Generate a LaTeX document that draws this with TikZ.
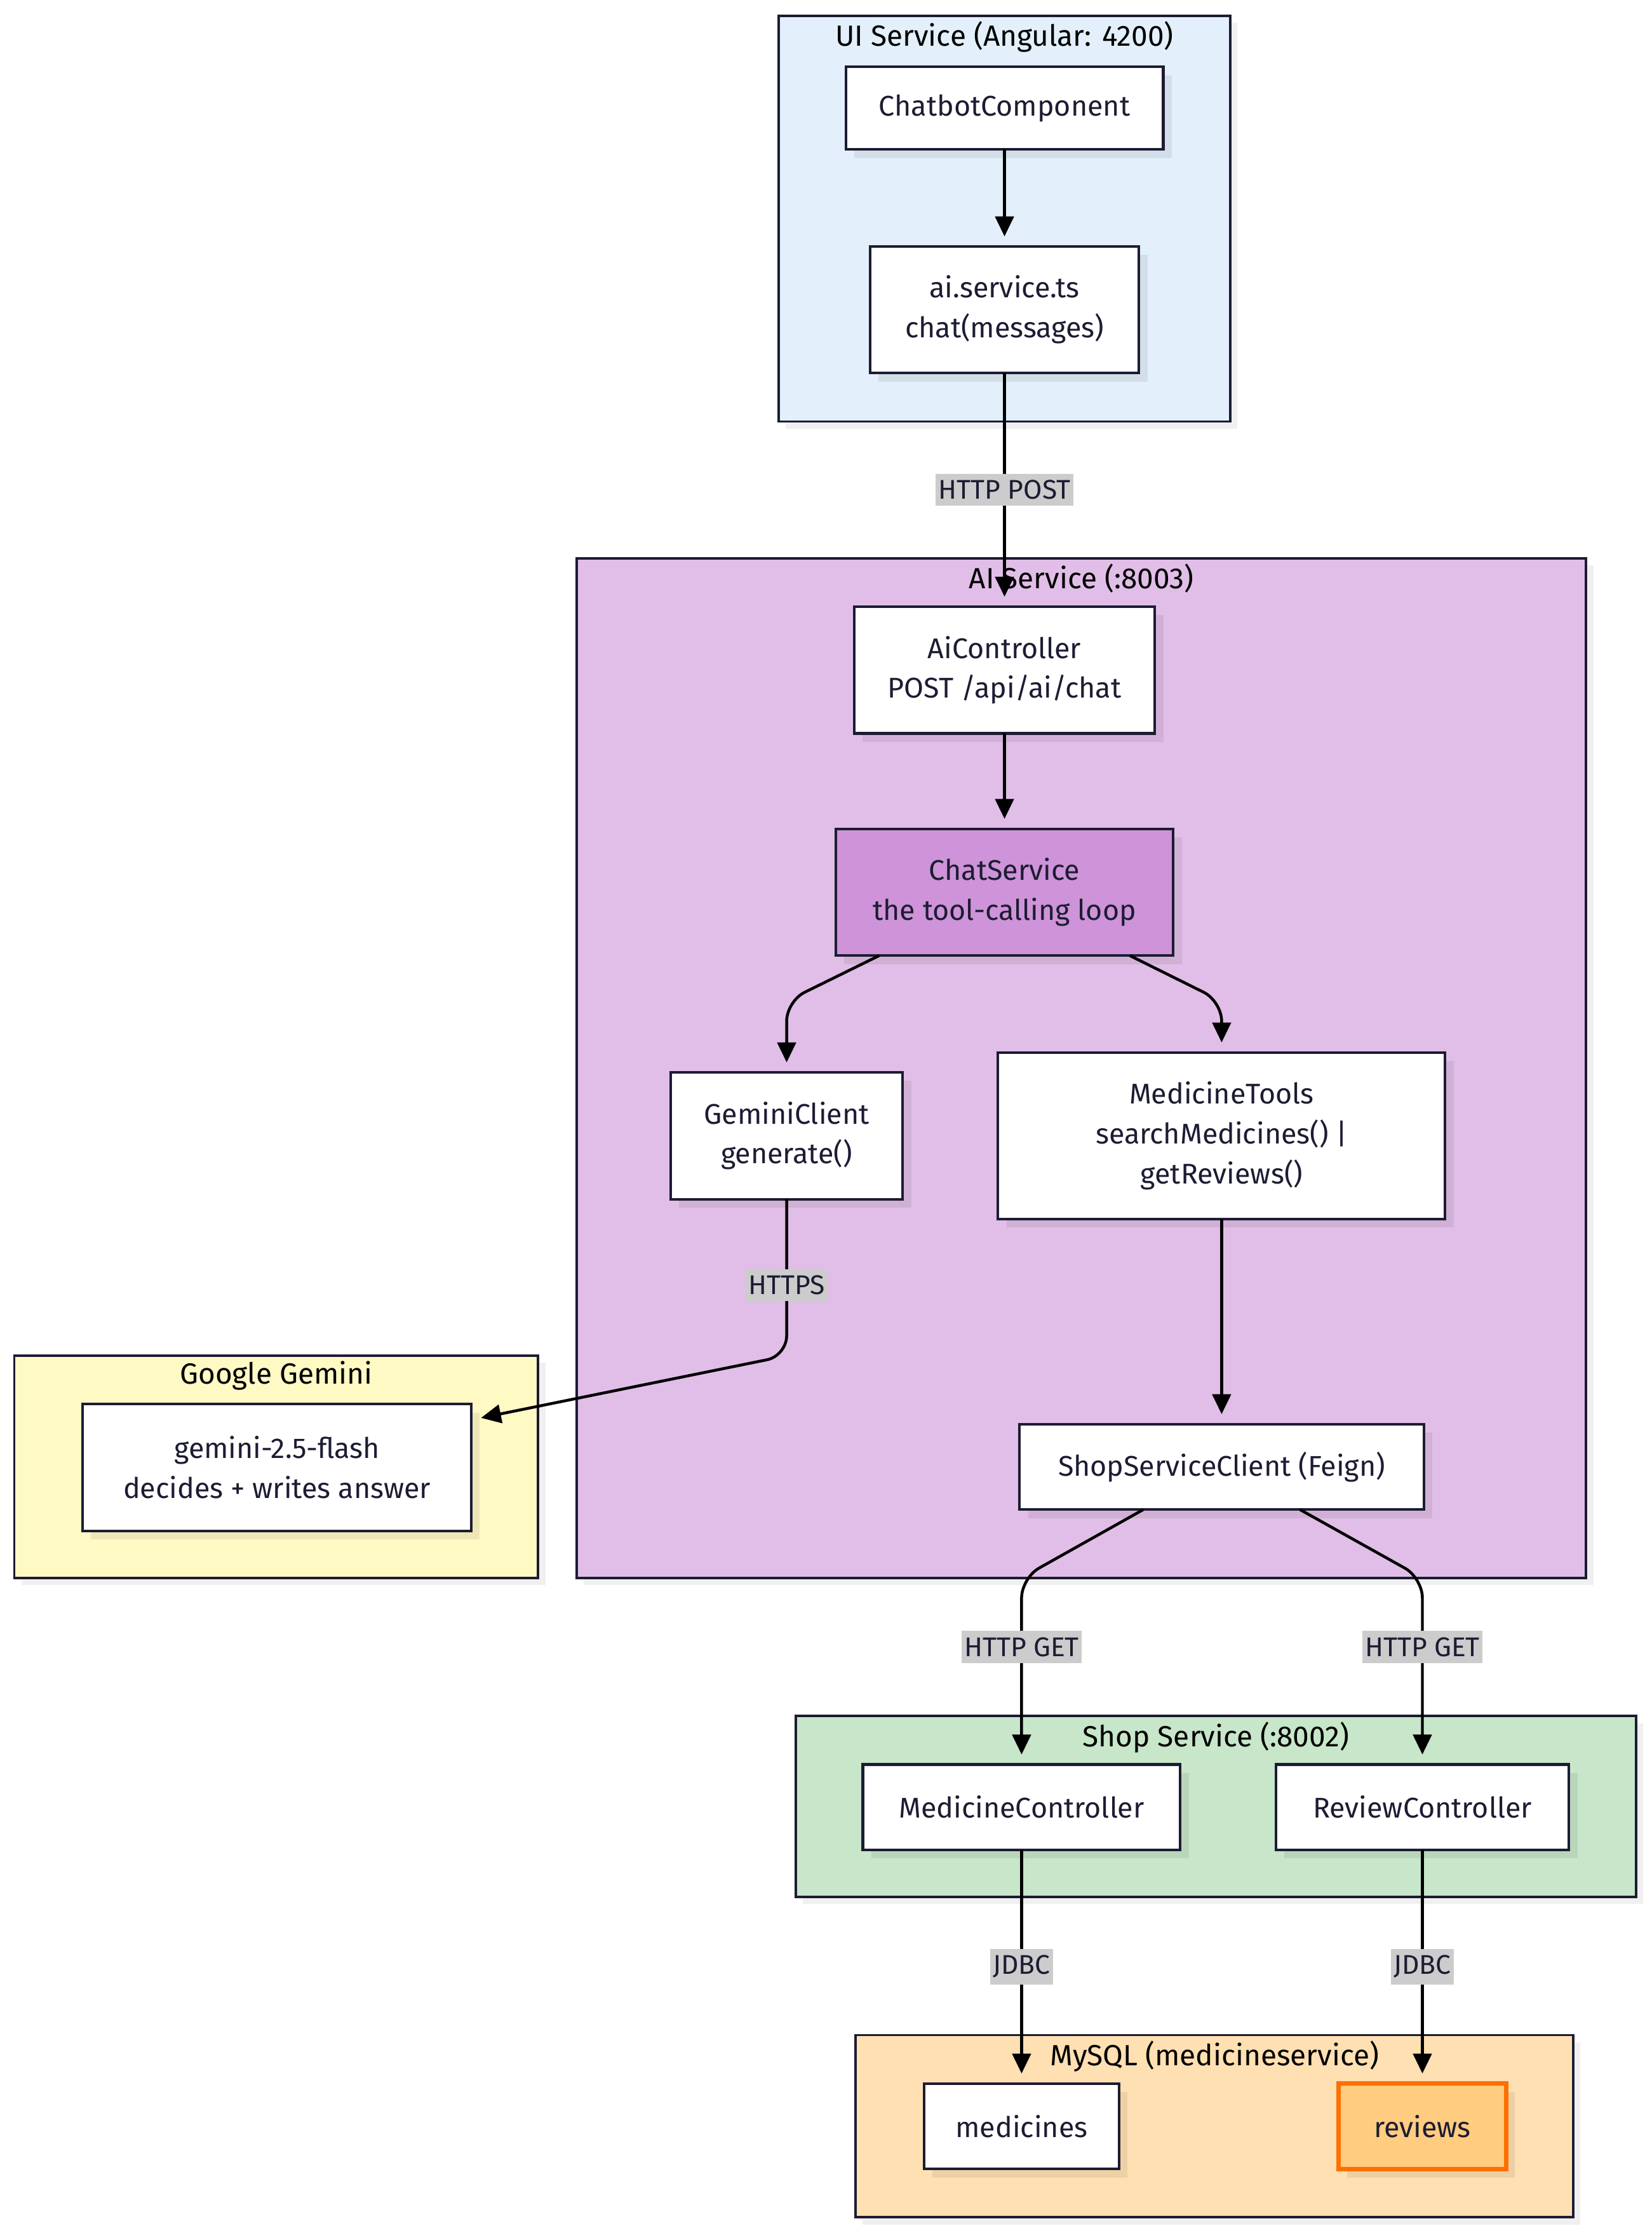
\documentclass[tikz,border=0pt]{standalone}
\usepackage{fontspec}
\setmainfont{Fira Sans}
\usepackage{xcolor}
\usetikzlibrary{arrows.meta, positioning, shadows}

\definecolor{ink}{HTML}{1C1C33}
\definecolor{uiblue}{HTML}{E3F0FB}
\definecolor{aipurple}{HTML}{E1BEE7}
\definecolor{chatpurple}{HTML}{CE93D8}
\definecolor{gemyellow}{HTML}{FFF9C4}
\definecolor{shopgreen}{HTML}{C8E6C9}
\definecolor{dborange}{HTML}{FFE0B2}
\definecolor{revfill}{HTML}{FFCC80}
\definecolor{revline}{HTML}{FF6F00}

\begin{document}
\begin{tikzpicture}[
		x=1pt, y=-1pt,
		every node/.style={font=\fontsize{20}{28}\selectfont, inner sep=0pt, outer sep=0pt},
		cluster/.style={draw=ink, line width=1.7pt,
			general shadow={fill=black, opacity=0.06, shadow xshift=5pt, shadow yshift=-5pt}},
		cluster title/.style={text=black, inner sep=2pt, font=\fontsize{20.5}{28}\selectfont},
		comp/.style={draw=ink, fill=white, line width=1.8pt, text=ink, align=center,
			general shadow={fill=black, opacity=0.07, shadow xshift=6pt, shadow yshift=-6pt}},
		flow/.style={line width=2pt, -{Triangle[width=13pt, length=14pt]}, shorten >=7pt},
		edge label/.style={sharp corners, fill=black!20, text=ink, inner xsep=2pt, inner ysep=4.5pt,
			font=\fontsize{19}{24}\selectfont}
		]

	\useasboundingbox (0,0) rectangle (1160,1568);

	% Clusters
	\node[cluster, fill=uiblue, minimum width=317, minimum height=285] (ui) at (705.5,153.5) {};
	\node[cluster title, below=2pt of ui.north] (uiT) {UI Service (Angular: 4200)};

	\node[cluster, fill=aipurple, minimum width=709, minimum height=716] (ai) at (759.5,750) {};
	\node[cluster title, below=2pt of ai.north] (aiT) {AI Service (:8003)};

	\node[cluster, fill=gemyellow, minimum width=368, minimum height=156] (gem) at (194,1030) {};
	\node[cluster title, below=2pt of gem.north] (gemT) {Google Gemini};

	\node[cluster, fill=shopgreen, minimum width=590, minimum height=127] (shop) at (854,1268.5) {};
	\node[cluster title, below=2pt of shop.north] (shopT) {Shop Service (:8002)};

	\node[cluster, fill=dborange, minimum width=504, minimum height=128] (db) at (853,1493) {};
	\node[cluster title, below=2pt of db.north] (dbT) {MySQL (medicineservice)};

	% UI Service
	\node[comp, minimum width=223, minimum height=58] (chatbot) at (705.5,76) {ChatbotComponent};
	\node[comp, minimum width=189, minimum height=89] (aisvc) at (705.5,217.5) {ai.service.ts\\chat(messages)};

	% AI Service
	\node[comp, minimum width=211, minimum height=89] (aictl) at (705.5,470.5) {AiController\\POST /api/ai/chat};
	\node[comp, fill=chatpurple, minimum width=237, minimum height=89] (chatsvc) at (705.5,626.5) {ChatService\\the tool-calling loop};
	\node[comp, minimum width=163, minimum height=89] (gemcl) at (552.5,797.5) {GeminiClient\\generate()};
	\node[comp, minimum width=314, minimum height=117] (medtools) at (858,797.5) {MedicineTools\\searchMedicines() |\\getReviews()};
	\node[comp, minimum width=284, minimum height=60] (shopcl) at (858,1030) {ShopServiceClient (Feign)};

	% Google Gemini
	\node[comp, minimum width=273, minimum height=89] (flash) at (194.5,1030.5) {gemini-2.5-flash\\decides + writes answer};

	% Shop Service
	\node[comp, minimum width=223, minimum height=60] (medctl) at (717.5,1269) {MedicineController};
	\node[comp, minimum width=206, minimum height=60] (revctl) at (999,1269) {ReviewController};

	% MySQL
	\node[comp, minimum width=137, minimum height=60] (medicines) at (717.5,1493) {medicines};
	\node[comp, fill=revfill, draw=revline, line width=3pt, minimum width=118, minimum height=60] (reviews) at (999,1493) {reviews};

	% Calls
	\draw[flow] (chatbot) -- (aisvc);
	\draw[flow] (aisvc) -- node[edge label]{HTTP POST} (aictl);
	\draw[flow] (aictl) -- (chatsvc);
	\draw[flow, rounded corners=14pt] ([xshift=-88pt]chatsvc.south) -- (gemcl.north |- 0,703) -- (gemcl.north);
	\draw[flow, rounded corners=14pt] ([xshift=88pt]chatsvc.south) -- (medtools.north |- 0,703) -- (medtools.north);
	\draw[flow, rounded corners=14pt] (gemcl.south) -- node[edge label, pos=0.55]{HTTPS} (gemcl.south |- 0,952) -- ([yshift=-11pt]flash.north east);
	\draw[flow] (medtools) -- (shopcl);
	\draw[flow, rounded corners=14pt] ([xshift=-55pt]shopcl.south) -- (medctl.north |- 0,1108) -- node[edge label, pos=0.37]{HTTP GET} (medctl.north);
	\draw[flow, rounded corners=14pt] ([xshift=55pt]shopcl.south) -- (revctl.north |- 0,1108) -- node[edge label, pos=0.37]{HTTP GET} (revctl.north);
	\draw[flow] (medctl) -- node[edge label]{JDBC} (medicines);
	\draw[flow] (revctl) -- node[edge label]{JDBC} (reviews);

\end{tikzpicture}
\end{document}
